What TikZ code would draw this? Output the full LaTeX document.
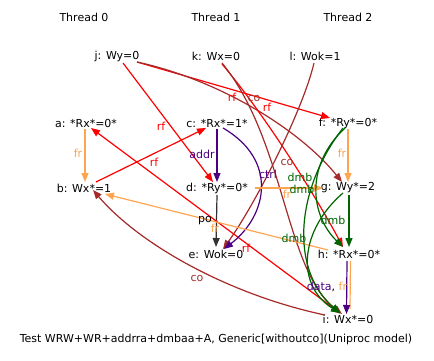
\documentclass[tikz,border=0pt]{standalone}
\usepackage{fontspec}
\setmainfont{DejaVu Sans}
\usetikzlibrary{arrows.meta}
\definecolor{cred}{RGB}{255,0,0}
\definecolor{corange}{RGB}{255,165,79}
\definecolor{cbrown}{RGB}{165,42,42}
\definecolor{cpurple}{RGB}{75,0,130}
\definecolor{cgreen}{RGB}{0,100,0}
\definecolor{cgrey}{RGB}{50,50,50}
\begin{document}
\begin{tikzpicture}[x=1pt,y=-1pt,font=\fontsize{11}{13}\selectfont,
  ev/.style={inner sep=0pt},
  lbl/.style={inner sep=0pt},
  conn/.style={line width=1.2pt,-{Triangle[length=9pt,width=7pt]}},
  rfE/.style={conn,draw=cred},
  coE/.style={conn,draw=cbrown},
  frE/.style={conn,draw=corange},
  dmbE/.style={conn,draw=cgreen},
  depE/.style={conn,draw=cpurple},
  poE/.style={conn,draw=cgrey}]
\useasboundingbox (0,0) rectangle (434,361);
% thread titles
\node[ev] (t0) at (84,17) {Thread 0};
\node[ev] (t1) at (216,17) {Thread 1};
\node[ev] (t2) at (348,17) {Thread 2};
% events
\node[ev] (j) at (117,56) {j: Wy=0};
\node[ev] (k) at (216,56) {k: Wx=0};
\node[ev] (l) at (315,56) {l: Wok=1};
\node[ev] (a) at (86,123) {a: *Rx*=0*};
\node[ev] (c) at (217,123) {c: *Rx*=1*};
\node[ev] (f) at (348,123) {f: *Ry*=0*};
\node[ev] (b) at (84,188) {b: Wx*=1};
\node[ev] (d) at (217,188) {d: *Ry*=0*};
\node[ev] (g) at (348,188) {g: Wy*=2};
\node[ev] (e) at (216,254) {e: Wok=0};
\node[ev] (h) at (349,254) {h: *Rx*=0*};
\node[ev] (i) at (348,319) {i: Wx*=0};
\node[ev] (cap) at (216,339) {Test WRW+WR+addrra+dmbaa+A, Generic[withoutco](Uniproc model)};
% edges
\draw[rfE] ([shift={(6,7)}]j.center) -- ([shift={(-4,-6)}]d.center);
\draw[depE] ([shift={(0,6)}]c.center) -- ([shift={(0,-6)}]d.center);
\draw[poE] ([shift={(0,7)}]d.center) -- ([shift={(0,-7)}]e.center);
\draw[frE] ([shift={(-1,6)}]a.center) -- ([shift={(1,-6)}]b.center);
\draw[rfE] ([shift={(12,-6)}]b.center) -- ([shift={(-11,5)}]c.center);
\draw[rfE] ([shift={(-8,-6)}]i.center) -- ([shift={(5,5)}]a.center);
\draw[rfE] ([shift={(20,6)}]j.center) -- ([shift={(-18,-5)}]f.center);
\draw[coE] ([shift={(20,6)}]j.center) .. controls (220,80) and (300,130) .. ([shift={(-6,-6)}]g.center);
\draw[rfE] ([shift={(6,8)}]k.center) .. controls (265,115) and (315,195) .. ([shift={(-6,-7)}]h.center);
\draw[coE] ([shift={(6,7)}]k.center) .. controls (285,140) and (285,270) .. ([shift={(-6,-5)}]i.center);
\draw[coE] ([shift={(-1,7)}]l.center) .. controls (303,110) and (255,205) .. ([shift={(7,-5)}]e.center);
\draw[depE] ([shift={(6,5)}]c.center) .. controls (278,160) and (268,215) .. ([shift={(8,-5)}]e.center);
\draw[frE] ([shift={(38,0)}]d.center) -- ([shift={(-25,0)}]g.center);
\draw[frE] ([shift={(0,6)}]f.center) -- ([shift={(0,-6)}]g.center);
\draw[frE] ([shift={(-21,-4)}]h.center) -- ([shift={(21,6)}]b.center);
\draw[line width=1.2pt,draw=corange] ([shift={(1.5,7)}]h.center) -- ([shift={(2,-10)}]i.center);
\draw[depE] ([shift={(-2,7)}]h.center) -- ([shift={(-1.5,-5)}]i.center);
\draw[coE] ([shift={(-23,-4)}]i.center) .. controls (230,295) and (140,245) .. ([shift={(9,2)}]b.center);
\draw[dmbE] ([shift={(-3,5)}]f.center) .. controls (305,165) and (310,215) .. ([shift={(-6,-7)}]h.center);
\draw[dmbE] ([shift={(-5,5)}]f.center) .. controls (295,190) and (290,270) .. ([shift={(-8,-6)}]i.center);
\draw[dmbE] ([shift={(1,7)}]g.center) -- ([shift={(0,-7)}]h.center);
\draw[dmbE] ([shift={(-5,5)}]g.center) .. controls (300,230) and (295,285) .. ([shift={(-8,-6)}]i.center);
% labels
\node[lbl,text=cred] (l1) at (161,126) {rf};
\node[lbl,text=cred] (l2) at (232,97) {rf};
\node[lbl,text=cbrown] (l3) at (254,98) {co};
\node[lbl,text=cred] (l4) at (267,107) {rf};
\node[lbl,text=corange] (l5) at (78,153) {fr};
\node[lbl,text=cpurple] (l6) at (202,154) {addr};
\node[lbl,text=cred] (l7) at (154,162) {rf};
\node[lbl,text=cpurple] (l8) at (268,174) {ctrl};
\node[lbl,text=cbrown] (l9) at (287,162) {co};
\node[lbl,text=corange] (l10) at (342,153) {fr};
\node[lbl,text=cgreen] (l11) at (300,177) {dmb};
\node[lbl,text=cgreen] (l12) at (302,189) {dmb};
\node[lbl,text=corange] (l13) at (287,194) {fr};
\node[lbl,text=cgreen] (l14) at (333,220) {dmb};
\node[lbl] (l15) at (205,221) {po};
\node[lbl,text=corange] (l16) at (215,228) {fr};
\node[lbl,text=cgreen] (l17) at (294,238) {dmb};
\node[lbl,text=cred] (l18) at (246,248) {rf};
\node[lbl,text=cbrown] (l19) at (197,278) {co};
\node[lbl] (l20) at (327,287) {\textcolor{cpurple}{data}, \textcolor{corange}{fr}};
\end{tikzpicture}
\end{document}
